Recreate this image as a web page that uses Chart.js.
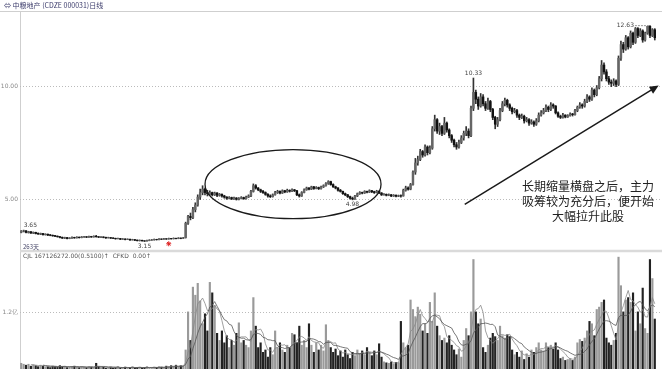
<!DOCTYPE html>
<html>
<head>
<meta charset="utf-8">
<script src="https://cdn.jsdelivr.net/npm/chart.js@4.4.0/dist/chart.umd.min.js"></script>
<style>
  body { margin: 0; background: #fff; }
  canvas { display: block; }
</style>
</head>
<body>
<canvas id="canvas" width="662" height="374"></canvas>
<script>
// daily candles (263 days)
var opens = [
  3.55,3.60,3.62,3.54,3.58,3.52,3.55,3.51,3.47,3.50,3.45,3.47,3.44,3.42,3.41,3.38,3.36,3.33,3.30,3.32,
  3.28,3.30,3.33,3.31,3.34,3.32,3.35,3.36,3.34,3.37,3.35,3.38,3.36,3.34,3.35,3.33,3.31,3.32,3.30,3.29,
  3.27,3.28,3.25,3.26,3.24,3.25,3.22,3.23,3.21,3.19,3.20,3.18,3.17,3.19,3.21,3.22,3.24,3.23,3.26,3.25,
  3.27,3.26,3.28,3.27,3.29,3.28,3.30,3.29,3.32,3.95,4.25,4.20,4.55,4.75,5.10,5.30,5.45,5.30,5.22,5.30,
  5.20,5.28,5.18,5.22,5.15,5.10,5.05,5.08,5.02,5.06,5.00,5.04,5.08,5.03,5.10,5.15,5.35,5.60,5.50,5.42,
  5.35,5.30,5.22,5.15,5.12,5.20,5.30,5.35,5.28,5.38,5.33,5.40,5.36,5.42,5.38,5.20,5.15,5.30,5.42,5.50,
  5.45,5.55,5.48,5.52,5.47,5.55,5.60,5.70,5.78,5.65,5.55,5.50,5.40,5.35,5.25,5.20,5.12,5.05,5.02,5.15,
  5.25,5.30,5.28,5.35,5.32,5.38,5.34,5.30,5.36,5.28,5.20,5.22,5.18,5.20,5.15,5.18,5.14,5.16,5.15,5.40,
  5.50,5.45,5.65,6.20,6.60,6.75,7.10,6.95,7.30,7.05,7.25,8.10,8.50,8.00,8.20,7.90,8.35,8.05,7.80,7.60,
  7.40,7.30,7.50,7.70,7.90,8.00,7.80,9.00,9.70,9.40,9.10,9.50,9.20,9.00,9.30,8.95,8.60,8.30,8.50,8.90,
  9.20,9.35,9.15,9.00,8.85,8.90,8.70,8.60,8.65,8.45,8.50,8.35,8.40,8.30,8.45,8.70,8.80,8.90,9.05,8.95,
  9.15,9.10,8.80,8.65,8.60,8.70,8.62,8.68,8.75,8.72,8.90,9.05,9.15,9.10,9.30,9.50,9.40,9.80,9.60,9.90,
  10.30,10.90,10.60,10.30,10.15,10.10,10.20,10.05,11.20,11.80,11.60,12.10,11.70,12.30,11.90,12.50,12.20,12.40,12.00,12.30,
  12.60,12.20,12.45
];
var highs = [
  3.63,3.65,3.63,3.60,3.59,3.57,3.56,3.53,3.52,3.51,3.49,3.48,3.46,3.44,3.42,3.40,3.38,3.35,3.34,3.33,
  3.32,3.35,3.34,3.36,3.35,3.37,3.38,3.37,3.39,3.38,3.40,3.42,3.37,3.37,3.36,3.34,3.34,3.33,3.32,3.30,
  3.30,3.29,3.28,3.27,3.27,3.26,3.25,3.24,3.22,3.22,3.21,3.19,3.21,3.23,3.24,3.26,3.25,3.28,3.27,3.29,
  3.28,3.30,3.29,3.31,3.30,3.32,3.31,3.33,4.00,4.30,4.40,4.65,4.85,5.20,5.45,5.60,5.50,5.40,5.38,5.32,
  5.32,5.30,5.26,5.24,5.18,5.12,5.12,5.10,5.10,5.08,5.08,5.12,5.10,5.14,5.20,5.40,5.68,5.65,5.52,5.45,
  5.40,5.33,5.25,5.20,5.24,5.35,5.40,5.38,5.42,5.40,5.45,5.42,5.46,5.44,5.40,5.24,5.34,5.46,5.54,5.52,
  5.58,5.57,5.56,5.54,5.58,5.64,5.74,5.82,5.80,5.68,5.58,5.52,5.44,5.37,5.28,5.22,5.14,5.10,5.18,5.28,
  5.34,5.32,5.38,5.37,5.42,5.40,5.36,5.40,5.38,5.30,5.26,5.24,5.24,5.22,5.21,5.20,5.19,5.20,5.45,5.58,
  5.55,5.70,6.25,6.80,6.90,7.20,7.15,7.40,7.35,7.35,8.20,8.70,8.55,8.35,8.25,8.60,8.40,8.10,7.85,7.65,
  7.50,7.60,7.80,8.00,8.20,8.10,9.10,10.33,9.80,9.50,9.65,9.60,9.30,9.45,9.35,9.00,8.65,8.60,9.00,9.30,
  9.45,9.40,9.20,9.05,9.00,8.95,8.75,8.75,8.70,8.60,8.55,8.50,8.45,8.55,8.80,8.90,9.00,9.15,9.10,9.25,
  9.20,9.12,8.85,8.70,8.78,8.72,8.72,8.80,8.78,8.95,9.10,9.25,9.20,9.40,9.60,9.55,9.90,9.85,10.00,10.40,
  11.10,11.00,10.70,10.40,10.25,10.30,10.25,11.30,11.95,11.90,12.20,12.15,12.40,12.35,12.55,12.55,12.50,12.45,12.35,12.60,
  12.63,12.50,12.50
];
var lows = [
  3.53,3.57,3.53,3.52,3.50,3.50,3.48,3.46,3.45,3.43,3.43,3.41,3.40,3.38,3.36,3.34,3.31,3.28,3.28,3.26,
  3.27,3.29,3.29,3.30,3.30,3.31,3.33,3.32,3.33,3.33,3.34,3.34,3.32,3.32,3.31,3.29,3.30,3.28,3.27,3.25,
  3.26,3.23,3.24,3.22,3.23,3.20,3.21,3.19,3.17,3.17,3.16,3.15,3.16,3.18,3.20,3.21,3.21,3.22,3.23,3.24,
  3.24,3.25,3.25,3.26,3.26,3.27,3.27,3.28,3.30,3.90,4.10,4.15,4.45,4.70,5.00,5.20,5.20,5.15,5.18,5.15,
  5.17,5.12,5.14,5.10,5.05,5.00,5.02,4.99,5.00,4.97,4.98,5.02,5.00,5.01,5.08,5.12,5.32,5.45,5.38,5.30,
  5.26,5.18,5.10,5.08,5.10,5.18,5.26,5.24,5.26,5.29,5.31,5.32,5.34,5.34,5.16,5.10,5.13,5.28,5.40,5.41,
  5.43,5.44,5.46,5.43,5.45,5.52,5.58,5.66,5.62,5.52,5.46,5.36,5.32,5.22,5.16,5.08,5.01,4.98,5.00,5.12,
  5.22,5.24,5.26,5.28,5.30,5.30,5.26,5.28,5.25,5.17,5.18,5.15,5.16,5.12,5.13,5.11,5.12,5.10,5.14,5.36,
  5.40,5.42,5.62,6.10,6.50,6.70,6.85,6.90,6.95,7.00,7.20,8.00,7.90,7.85,7.80,7.85,7.95,7.70,7.50,7.30,
  7.20,7.25,7.45,7.60,7.80,7.70,7.75,8.90,9.20,8.95,9.05,9.10,8.90,8.95,8.85,8.50,8.10,8.20,8.45,8.85,
  9.10,9.05,8.90,8.75,8.80,8.60,8.50,8.55,8.35,8.40,8.25,8.30,8.20,8.25,8.40,8.65,8.75,8.85,8.85,8.90,
  9.00,8.75,8.60,8.55,8.57,8.58,8.60,8.65,8.66,8.70,8.85,9.00,9.00,9.05,9.25,9.30,9.35,9.50,9.55,9.85,
  10.20,10.50,10.20,10.05,9.95,10.00,9.95,10.00,11.10,11.45,11.55,11.60,11.65,11.80,11.85,12.10,12.15,11.90,11.95,12.25,
  12.10,12.15,12.00
];
var closes = [
  3.60,3.62,3.55,3.58,3.52,3.55,3.50,3.48,3.50,3.45,3.47,3.43,3.42,3.40,3.38,3.36,3.33,3.30,3.32,3.28,
  3.30,3.33,3.31,3.34,3.32,3.35,3.36,3.34,3.37,3.35,3.38,3.36,3.34,3.35,3.33,3.31,3.32,3.30,3.29,3.27,
  3.28,3.25,3.26,3.24,3.25,3.22,3.23,3.21,3.19,3.20,3.18,3.17,3.19,3.21,3.22,3.24,3.23,3.26,3.25,3.27,
  3.26,3.28,3.27,3.29,3.28,3.30,3.29,3.31,3.95,4.25,4.20,4.55,4.75,5.10,5.30,5.45,5.30,5.25,5.30,5.20,
  5.28,5.18,5.22,5.15,5.10,5.05,5.08,5.02,5.06,5.00,5.04,5.08,5.03,5.10,5.15,5.35,5.60,5.50,5.42,5.35,
  5.30,5.22,5.15,5.12,5.20,5.30,5.35,5.28,5.38,5.33,5.40,5.36,5.42,5.38,5.20,5.15,5.30,5.42,5.50,5.45,
  5.55,5.48,5.52,5.47,5.55,5.60,5.70,5.78,5.65,5.55,5.50,5.40,5.35,5.25,5.20,5.12,5.05,5.02,5.15,5.25,
  5.30,5.28,5.35,5.32,5.38,5.34,5.30,5.36,5.28,5.20,5.22,5.18,5.20,5.15,5.18,5.14,5.16,5.15,5.40,5.50,
  5.45,5.65,6.20,6.60,6.75,7.10,6.95,7.30,7.05,7.25,8.10,8.50,8.00,8.20,7.90,8.35,8.05,7.80,7.60,7.40,
  7.30,7.50,7.70,7.90,8.00,7.80,9.00,9.70,9.40,9.10,9.50,9.20,9.00,9.30,8.95,8.60,8.30,8.50,8.90,9.20,
  9.35,9.15,9.00,8.85,8.90,8.70,8.60,8.65,8.45,8.50,8.35,8.40,8.30,8.45,8.70,8.80,8.90,9.05,8.95,9.15,
  9.10,8.80,8.65,8.60,8.70,8.62,8.68,8.75,8.72,8.90,9.05,9.15,9.10,9.30,9.50,9.40,9.80,9.60,9.90,10.30,
  10.90,10.60,10.30,10.15,10.10,10.20,10.05,11.20,11.80,11.60,12.10,11.70,12.30,11.90,12.50,12.20,12.40,12.00,12.30,12.60,
  12.20,12.45,12.10
];
// volume in 亿
var volumes = [
  0.12,0.10,0.08,0.10,0.06,0.09,0.07,0.05,0.08,0.06,0.04,0.05,0.03,0.06,0.05,0.04,0.07,0.05,0.06,0.03,
  0.04,0.05,0.06,0.04,0.03,0.05,0.04,0.03,0.05,0.04,0.03,0.12,0.05,0.03,0.04,0.02,0.03,0.04,0.02,0.03,
  0.05,0.02,0.03,0.04,0.02,0.03,0.05,0.02,0.03,0.04,0.02,0.03,0.05,0.02,0.03,0.04,0.03,0.05,0.04,0.03,
  0.06,0.05,0.07,0.06,0.08,0.05,0.07,0.06,0.40,1.20,0.60,1.72,1.55,1.80,1.43,0.95,1.16,0.80,1.82,1.60,
  1.33,0.75,0.60,0.80,0.55,0.70,0.45,0.60,0.50,0.75,0.97,0.55,0.60,0.50,0.45,0.80,1.50,0.90,0.45,0.55,
  0.35,0.40,0.25,0.45,0.30,0.80,0.45,0.55,0.40,0.35,0.50,0.45,0.75,0.72,0.55,0.90,0.50,0.60,0.45,0.95,
  0.50,0.35,0.55,0.40,0.50,0.38,0.93,0.60,0.45,0.35,0.42,0.28,0.38,0.25,0.40,0.30,0.22,0.35,0.28,0.40,
  0.33,0.38,0.30,0.45,0.35,0.28,0.38,0.30,0.53,0.25,0.15,0.13,0.12,0.15,0.11,0.14,0.13,1.00,0.55,0.45,
  0.50,1.45,1.25,1.10,1.30,1.15,0.80,0.95,0.75,1.40,1.00,1.60,0.90,0.70,0.60,0.65,0.55,0.70,0.50,0.40,
  0.30,0.42,0.25,0.60,0.85,0.70,1.20,2.30,1.20,0.95,1.05,0.45,0.35,0.50,0.65,0.75,0.68,0.60,0.90,0.70,
  0.65,0.72,0.68,0.40,0.30,0.35,0.25,0.38,0.20,0.32,0.25,0.40,0.35,0.45,0.55,0.40,0.38,0.55,0.45,0.50,
  0.42,0.55,0.40,0.22,0.25,0.18,0.20,0.22,0.18,0.25,0.55,0.62,0.58,0.65,0.80,1.00,0.95,0.70,1.25,1.30,
  1.40,1.45,0.65,0.55,0.50,0.60,0.75,2.35,1.75,1.20,1.45,1.50,1.40,1.60,0.80,1.20,0.95,1.70,0.85,0.75,
  2.30,1.90,1.05
];
var priceTicks = [5, 10];
var volumeTicks = [1.2];
var markIndex = 61, markPrice = 3.05;   // red marker under the lows
var valueLabels = [
  { i: 1, v: 3.65, text: '3.65', pos: 'above', align: 'left' },
  { i: 51, v: 3.15, text: '3.15', pos: 'below', align: 'center' },
  { i: 137, v: 4.98, text: '4.98', pos: 'below', align: 'center' },
  { i: 187, v: 10.33, text: '10.33', pos: 'above', align: 'center' },
  { i: 260, v: 12.63, text: '12.63', pos: 'left', align: 'right' }
];
var noteLines = ['长期缩量横盘之后，主力', '吸筹较为充分后，便开始', '大幅拉升此股'];

var days = closes.map(function(_, i){ return i + 1; });
var wicks = closes.map(function(_, i){ return [lows[i], highs[i]]; });
var bodies = closes.map(function(c, i){ return [opens[i], c]; });
var bodyColors = closes.map(function(c, i){ return c >= opens[i] ? '#666' : '#111'; });
var volColors = closes.map(function(c, i){ return c >= opens[i] ? '#9a9a9a' : '#222'; });
var marker = closes.map(function(_, i){ return i === markIndex ? markPrice : null; });

function movingAvg(arr, n){
  return arr.map(function(_, i){
    if (i < n - 1) return null;
    var s = 0;
    for (var k = i - n + 1; k <= i; k++) s += arr[k];
    return s / n;
  });
}

var decor = {
  id: 'decor',
  beforeDatasetsDraw: function(chart){
    var c = chart.ctx, a = chart.chartArea, W = chart.width;
    var y = chart.scales.y, yv = chart.scales.yv;
    c.save();
    // frame lines
    c.strokeStyle = '#cfcfcf';
    c.lineWidth = 1;
    c.beginPath(); c.moveTo(0, 11.5); c.lineTo(W, 11.5); c.stroke();
    c.beginPath(); c.moveTo(a.left + 0.5, 12); c.lineTo(a.left + 0.5, a.bottom); c.stroke();
    c.strokeStyle = '#dadada';
    c.lineWidth = 2.5;
    c.beginPath(); c.moveTo(a.left, 251); c.lineTo(W, 251); c.stroke();
    // dotted grid
    c.strokeStyle = '#bbb';
    c.lineWidth = 1;
    c.setLineDash([1, 2]);
    c.font = '6px "DejaVu Sans"';
    c.fillStyle = '#888';
    c.textAlign = 'right';
    c.textBaseline = 'middle';
    priceTicks.forEach(function(t){
      var py = Math.round(y.getPixelForValue(t)) + 0.5;
      c.beginPath(); c.moveTo(a.left, py); c.lineTo(W, py); c.stroke();
      c.fillText(t.toFixed(2), a.left - 2, py);
    });
    volumeTicks.forEach(function(t){
      var py = Math.round(yv.getPixelForValue(t)) + 0.5;
      c.beginPath(); c.moveTo(a.left, py); c.lineTo(W, py); c.stroke();
      c.fillText(t + '亿', a.left - 2, py);
    });
    c.setLineDash([]);
    c.restore();
  },
  afterDatasetsDraw: function(chart){
    var c = chart.ctx, a = chart.chartArea;
    var x = chart.scales.x, y = chart.scales.y;
    c.save();
    // header texts
    c.textAlign = 'left';
    c.textBaseline = 'middle';
    c.font = '7px "Noto Sans CJK SC"';
    c.fillStyle = '#3a3a6a';
    c.fillText('⇔ 中粮地产 (CDZE 000031)日线', 4, 5.5);
    c.font = '6px "DejaVu Sans"';
    c.fillStyle = '#555';
    c.fillText('CJL 167126272.00(0.5100)↑  CFKD  0.00↑', a.left + 3, 256);
    c.font = '6px "Noto Sans CJK SC"';
    c.fillStyle = '#446';
    c.fillText('263天', a.left + 3, 247);

    // value labels
    c.font = '6px "DejaVu Sans"';
    c.fillStyle = '#444';
    valueLabels.forEach(function(l){
      var px = x.getPixelForValue(l.i), py = y.getPixelForValue(l.v);
      c.textAlign = l.align;
      if (l.pos === 'above') c.fillText(l.text, px, py - 5);
      else if (l.pos === 'below') c.fillText(l.text, px, py + 5);
      else {
        c.fillText(l.text, px - 16, py);
        c.strokeStyle = '#666'; c.lineWidth = 0.7; c.setLineDash([2, 1]);
        c.beginPath(); c.moveTo(px - 15, py); c.lineTo(px, py); c.stroke();
        c.setLineDash([]);
      }
    });

    // ellipse round the consolidation
    c.strokeStyle = '#1a1a1a';
    c.lineWidth = 1.3;
    c.beginPath();
    c.ellipse(x.getPixelForValue(112.4), y.getPixelForValue(5.67), 88, 34.5, 0, 0, Math.PI * 2);
    c.stroke();

    // arrow
    var x1 = x.getPixelForValue(183.4), y1 = y.getPixelForValue(4.78);
    var x2 = x.getPixelForValue(263.6), y2 = y.getPixelForValue(10.0);
    var ang = Math.atan2(y2 - y1, x2 - x1);
    c.lineWidth = 1.5;
    c.beginPath(); c.moveTo(x1, y1); c.lineTo(x2 - 6 * Math.cos(ang), y2 - 6 * Math.sin(ang)); c.stroke();
    c.fillStyle = '#1a1a1a';
    c.beginPath();
    c.moveTo(x2, y2);
    c.lineTo(x2 - 9 * Math.cos(ang) + 4 * Math.sin(ang), y2 - 9 * Math.sin(ang) - 4 * Math.cos(ang));
    c.lineTo(x2 - 9 * Math.cos(ang) - 4 * Math.sin(ang), y2 - 9 * Math.sin(ang) + 4 * Math.cos(ang));
    c.closePath(); c.fill();

    // note
    c.font = '12px "Noto Sans CJK SC"';
    c.fillStyle = '#222';
    c.textAlign = 'center';
    noteLines.forEach(function(t, k){
      c.fillText(t, 588, 186 + k * 15);
    });
    c.restore();
  }
};

new Chart(document.getElementById('canvas'), {
  data: {
    labels: days,
    datasets: [
      { type: 'bar', data: wicks, yAxisID: 'y', backgroundColor: '#333', barThickness: 1, grouped: false, order: 3 },
      { type: 'bar', data: bodies, yAxisID: 'y', backgroundColor: bodyColors, barThickness: 1.8, grouped: false, order: 2 },
      { type: 'line', data: marker, yAxisID: 'y', showLine: false, pointStyle: 'star', pointRadius: 2.5,
        borderColor: '#d22', backgroundColor: '#d22', borderWidth: 1, order: 1 },
      { type: 'bar', data: volumes, yAxisID: 'yv', backgroundColor: volColors, barThickness: 1.5, grouped: false, order: 6 },
      { type: 'line', data: movingAvg(volumes, 5), yAxisID: 'yv', borderColor: '#888', borderWidth: 0.8, pointRadius: 0, order: 5 },
      { type: 'line', data: movingAvg(volumes, 10), yAxisID: 'yv', borderColor: '#555', borderWidth: 0.8, pointRadius: 0, order: 4 }
    ]
  },
  options: {
    responsive: false,
    animation: false,
    devicePixelRatio: 1,
    layout: { padding: { left: 20, right: 6, top: 12, bottom: 0 } },
    plugins: { legend: { display: false }, tooltip: { enabled: false } },
    scales: {
      x: { display: false, offset: true },
      y: { display: false, min: -2.45, max: 13.23 },
      yv: { display: false, min: 0, max: 7.5 }
    }
  },
  plugins: [decor]
});
</script>
</body>
</html>
